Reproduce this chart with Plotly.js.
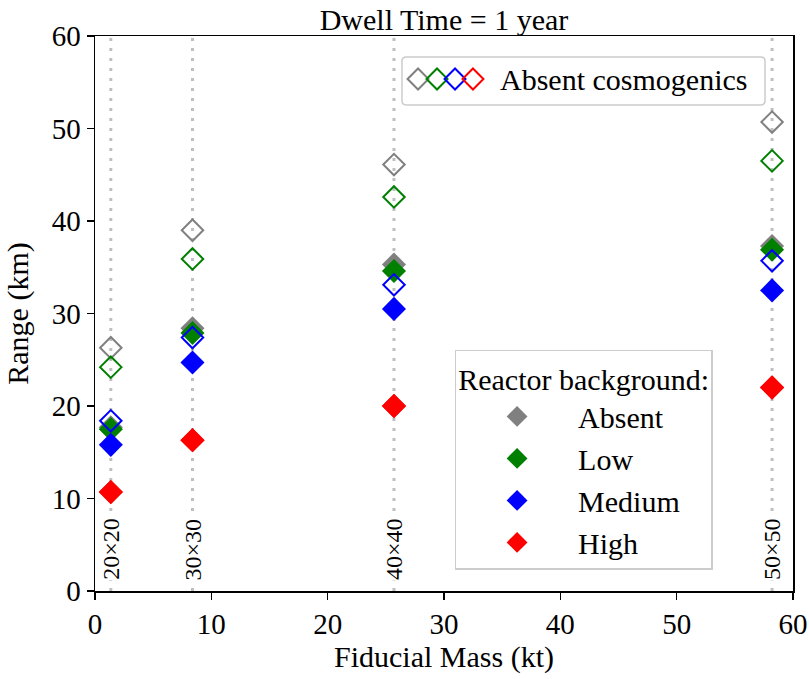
<!DOCTYPE html>
<html>
<head>
<meta charset="utf-8">
<script src="https://cdn.plot.ly/plotly-3.0.1.min.js"></script>
<style>html,body{margin:0;padding:0;background:#fff}#chart{width:809px;height:679px}</style>
</head>
<body>
<div id="chart"></div>
<script>
// Fiducial masses (kt) for each detector size
const fiducialMass = [1.36, 8.38, 25.7, 58.2];
const detectorSide = [20, 30, 40, 50];

const seriesNames = ["Absent", "Low", "Medium", "High"];
const seriesColors = ["gray", "green", "blue", "red"];

// Range (km) with cosmogenic background
const rangeAbsent = [17.7, 28.4, 35.3, 37.3];
const rangeLow    = [17.5, 27.9, 34.6, 36.9];
const rangeMedium = [15.8, 24.7, 30.5, 32.5];
const rangeHigh   = [10.7, 16.3, 20.0, 22.0];

// Range (km) with absent cosmogenics
const rangeAbsentNoCosmo = [26.3, 39.0, 46.1, 50.7];
const rangeLowNoCosmo    = [24.2, 35.9, 42.6, 46.5];
const rangeMediumNoCosmo = [18.4, 27.4, 33.1, 35.7];
const rangeHighNoCosmo   = [10.7, 16.3, 20.0, 22.0];

const filledSets = [rangeAbsent, rangeLow, rangeMedium, rangeHigh];
const openSets = [rangeAbsentNoCosmo, rangeLowNoCosmo, rangeMediumNoCosmo, rangeHighNoCosmo];

const FONT = "Liberation Serif, Times New Roman, serif";
const traces = [];
for (let i = 0; i < 4; i++) {
  traces.push({
    type: "scatter", mode: "markers", x: fiducialMass, y: openSets[i],
    name: seriesNames[i] + " (no cosmogenics)", showlegend: false, legendgroup: "g" + i,
    marker: {symbol: "diamond-open", size: 16.5, color: seriesColors[i], line: {width: 2, color: seriesColors[i]}},
    hoverinfo: "x+y"
  });
  traces.push({
    type: "scatter", mode: "markers", x: fiducialMass, y: filledSets[i],
    name: seriesNames[i], showlegend: true, legendgroup: "g" + i,
    marker: {symbol: "diamond", size: 18.5, color: seriesColors[i]},
    hoverinfo: "x+y"
  });
}

const shapes = fiducialMass.map(m => ({
  type: "line", xref: "x", yref: "paper", x0: m, x1: m, y0: 0, y1: 1, layer: "below",
  line: {color: "#bfbfbf", width: 3, dash: "3px,7px"}
}));

// Manual "Absent cosmogenics" legend (box + overlapping glyphs)
function roundRect(x0, y0, x1, y1, rx, ry) {
  return `M${x0+rx},${y0} L${x1-rx},${y0} Q${x1},${y0} ${x1},${y0+ry} L${x1},${y1-ry} Q${x1},${y1} ${x1-rx},${y1} L${x0+rx},${y1} Q${x0},${y1} ${x0},${y1-ry} L${x0},${y0+ry} Q${x0},${y0} ${x0+rx},${y0} Z`;
}
shapes.push({type: "path", xref: "paper", yref: "paper",
  path: roundRect(0.4398, 0.8757, 0.9599, 0.9622, 0.006, 0.0075),
  fillcolor: "white", line: {color: "#cccccc", width: 1.5}, layer: "above"});
const glyphX = [0.4628, 0.4900, 0.5158, 0.5415];
const gy = 0.9225, hx = 0.0150, hy = 0.0189;
seriesColors.forEach((c, i) => {
  const cx = glyphX[i];
  shapes.push({type: "path", xref: "paper", yref: "paper", layer: "above",
    path: `M${cx-hx},${gy} L${cx},${gy+hy} L${cx+hx},${gy} L${cx},${gy-hy} Z`,
    line: {color: c, width: 2}, fillcolor: "rgba(0,0,0,0)"});
});

const annotations = fiducialMass.map((m, i) => ({
  x: m, xref: "x", y: 0.0757, yref: "paper", xanchor: "center", yanchor: "middle",
  text: detectorSide[i] + "×" + detectorSide[i], textangle: -90, showarrow: false,
  bgcolor: "white", borderpad: 0, font: {family: FONT, size: 24, color: "black"}
}));
annotations.push({x: 0.578, xref: "paper", y: gy, yref: "paper", xanchor: "left", yanchor: "middle",
  text: "Absent cosmogenics", showarrow: false, font: {family: FONT, size: 30, color: "black"}});

const axisCommon = {
  showgrid: false, zeroline: false, showline: true, mirror: true, linecolor: "black", linewidth: 1.5,
  ticks: "outside", ticklen: 7, tickwidth: 1.5, tickcolor: "black",
  tickfont: {family: FONT, size: 29, color: "black"}, range: [0, 60], tickvals: [0, 10, 20, 30, 40, 50, 60]
};

const layout = {
  width: 809, height: 679,
  margin: {l: 95, r: 16, t: 36, b: 88},
  paper_bgcolor: "white", plot_bgcolor: "white",
  font: {family: FONT, color: "black"},
  title: {text: "Dwell Time = 1 year", x: 0.5, xref: "paper", xanchor: "center", y: 0.972, yref: "container", yanchor: "middle",
    font: {family: FONT, size: 30, color: "black"}},
  xaxis: Object.assign({}, axisCommon, {title: {text: "Fiducial Mass (kt)", font: {family: FONT, size: 30, color: "black"}, standoff: 4}}),
  yaxis: Object.assign({}, axisCommon, {title: {text: "Range (km)", font: {family: FONT, size: 30, color: "black"}, standoff: 14}}),
  legend: {
    x: 0.70, xanchor: "center", y: 0.038, yanchor: "bottom",
    bgcolor: "white", bordercolor: "#cccccc", borderwidth: 1.5,
    font: {family: FONT, size: 30, color: "black"},
    title: {text: "Reactor background:", side: "top center", font: {family: FONT, size: 30, color: "black"}},
    itemwidth: 112, traceorder: "grouped", tracegroupgap: 0
  },
  shapes: shapes,
  annotations: annotations,
  showlegend: true
};

Plotly.newPlot("chart", traces, layout, {displayModeBar: false, staticPlot: true});
</script>
</body>
</html>
